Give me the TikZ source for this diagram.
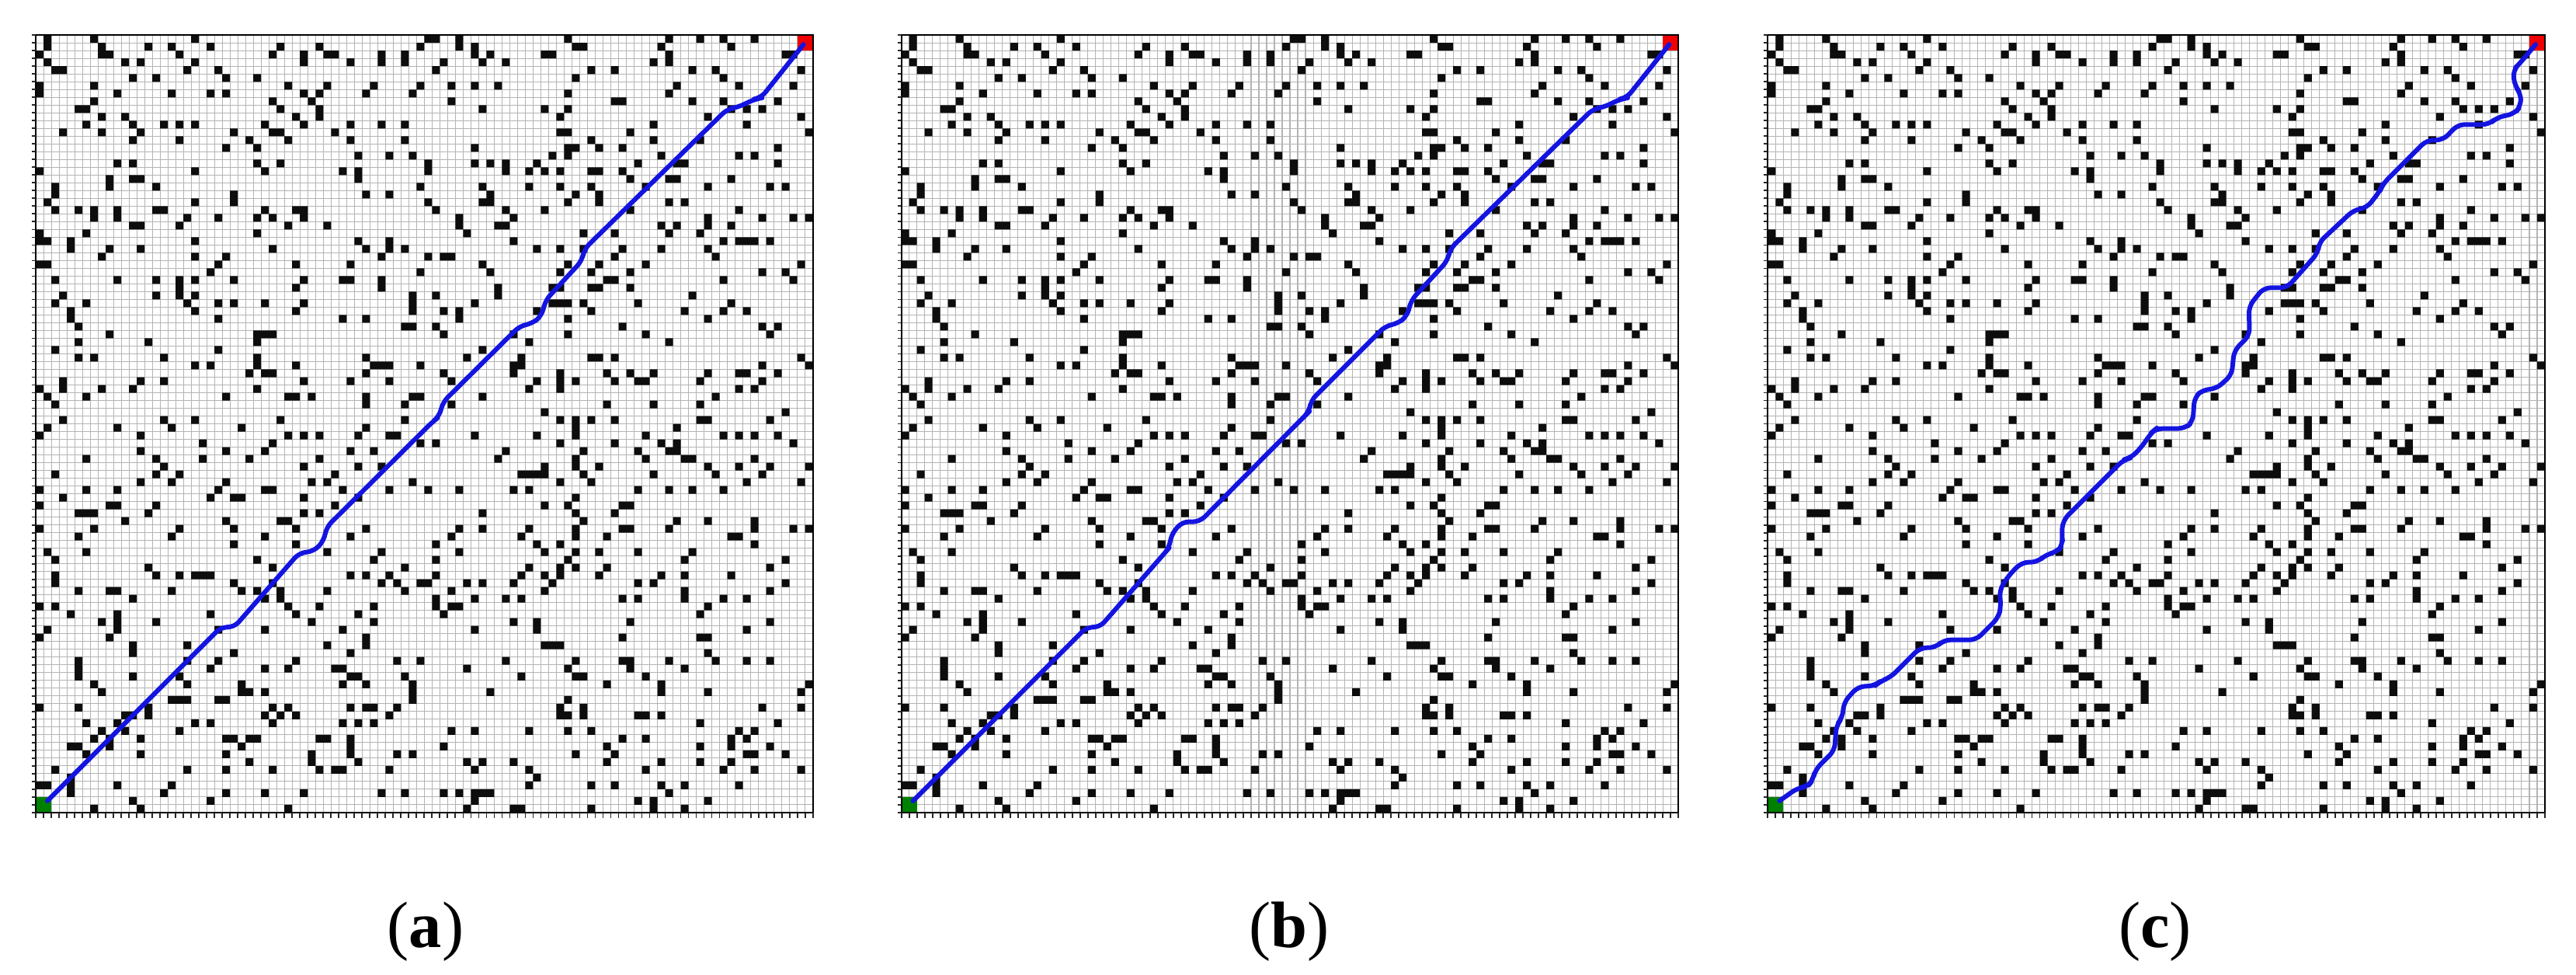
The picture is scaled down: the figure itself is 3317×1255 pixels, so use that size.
\documentclass[tikz,border=0pt]{standalone}
\usepackage{fontspec}
\setmainfont{Liberation Serif}
\tikzset{
  gridline/.style={draw={rgb,255:red,180;green,180;blue,180}, line width=0.3pt},
  tickmark/.style={draw=black!85, line width=0.5pt},
  frameline/.style={draw=black, line width=0.6pt},
  obstacle/.style={fill=black!95},
  route/.style={draw={rgb,255:red,20;green,20;blue,225}, line width=1.7pt, rounded corners=2.5pt, line join=round, line cap=round},
  startcell/.style={fill={rgb,255:red,0;green,128;blue,0}},
  goalcell/.style={fill={rgb,255:red,240;green,0;blue,0}},
  caption/.style={font=\fontsize{24}{29}\selectfont, anchor=base, inner sep=0pt},
}
\newcommand\mypanel[3]{%
  \begin{scope}[xshift=#1, yshift=2.09cm, x=0.1cm, y=0.1cm]
    \path[fill=white] (0,0) rectangle (100,100);
    \draw[gridline] \foreach \k in {1,...,99}{(\k,0)--(\k,100) (0,\k)--(100,\k)};
    \fill[obstacle] \obst;
    \fill[startcell] (0,0) rectangle (2,2);
    \fill[goalcell] (98,98) rectangle (100,100);
    \coordinate (#3s) at (1.5,1.5);
    \coordinate (#3g) at (98.8,98.8);
    \draw[route] (#3s) -- #2 -- (#3g);
    \draw[frameline] (0,0) rectangle (100,100);
    \draw[tickmark] \foreach \k in {0,...,100}{(0,\k)--(-0.5,\k) (\k,0)--(\k,-0.7)};
  \end{scope}%
}
\begin{document}
\begin{tikzpicture}[x=0.01cm,y=0.01cm]
\useasboundingbox (0,0) rectangle (3317,1255);
\pgfmathsetseed{4242}
\gdef\obst{}
\foreach \i in {0,...,99}{\foreach \j in {0,...,99}{%
  \pgfmathrnd
  \ifdim\pgfmathresult pt<0.1pt \xdef\obst{\obst(\i,\j) rectangle ++(1,1)}\fi}}
% (a)
\mypanel{0.46cm}{(23.9,23.9) -- (25.5,23.8) -- (33.9,33.4) -- (35.8,33.6) -- (37.1,35.0) -- (37.4,36.7) -- (51,50.2) -- (51.9,50.9) -- (52.4,52.8) -- (62.3,62.6) -- (63.9,62.9) -- (65.1,63.9) -- (65.6,65.9) -- (70.3,71.0) -- (70.6,72.5) -- (89,90.5) -- (90.3,90.7) -- (92.6,91.8) -- (93.3,91.9)}{a}
% (b)
\mypanel{11.60cm}{(23.9,23.9) -- (25.5,23.8) -- (33.9,33.4) -- (34.5,34.1) -- (34.7,35.7) -- (36.1,37.4) -- (38.4,37.4) -- (51.9,51.0) -- (52.5,51.6) -- (52.7,53.0) -- (62.3,62.6) -- (63.9,62.9) -- (65.1,63.9) -- (65.6,65.9) -- (70.3,71.0) -- (70.6,72.5) -- (89,90.5) -- (90.3,90.7) -- (92.6,91.8) -- (93.3,91.9)}{b}
% (c)
\mypanel{22.75cm}{(3.9,3.2) -- (5.1,3.3) -- (5.8,4.2) -- (6.1,5.5) -- (8.6,8.0) -- (8.8,11.2) -- (9.6,12.2) -- (9.8,14.2) -- (11.6,16.2) -- (13.8,16.3) -- (14.5,16.9) -- (15.8,17.4) -- (19.6,21.2) -- (21.6,21.2) -- (22.6,22.2) -- (26.8,22.2) -- (29.7,25.1) -- (30.0,26.6) -- (29.8,28.6) -- (31,30.5) -- (32.7,32.2) -- (34.7,32.2) -- (35.8,33.2) -- (37.2,33.5) -- (38,34.5) -- (37.8,35.8) -- (38,37.6) -- (45.8,45.4) -- (46.7,45.6) -- (48,46.9) -- (49.4,48.9) -- (50,49.4) -- (53.7,49.4) -- (54.7,50.3) -- (54.9,53.4) -- (56,54.4) -- (57.7,54.5) -- (59.7,56.3) -- (60,59.4) -- (62,61.4) -- (61.9,65.1) -- (63.8,67.5) -- (66.8,67.5) -- (70.8,72) -- (70.9,73.3) -- (75.4,77.5) -- (77.1,77.8) -- (78.8,80) -- (79.1,80.8) -- (84.8,86.5) -- (86.9,86.5) -- (88.8,88.5) -- (92.8,88.5) -- (93.8,89.4) -- (96.1,89.9) -- (96.9,90.9) -- (96.9,92.5) -- (96.1,93.5) -- (95.9,95.5) -- (96.8,96.4)}{c}
\node[caption] (capa) at (548,35) {(\textbf{a})};
\node[caption] (capb) at (1660,35) {(\textbf{b})};
\node[caption] (capc) at (2775,35) {(\textbf{c})};
\end{tikzpicture}
\end{document}
